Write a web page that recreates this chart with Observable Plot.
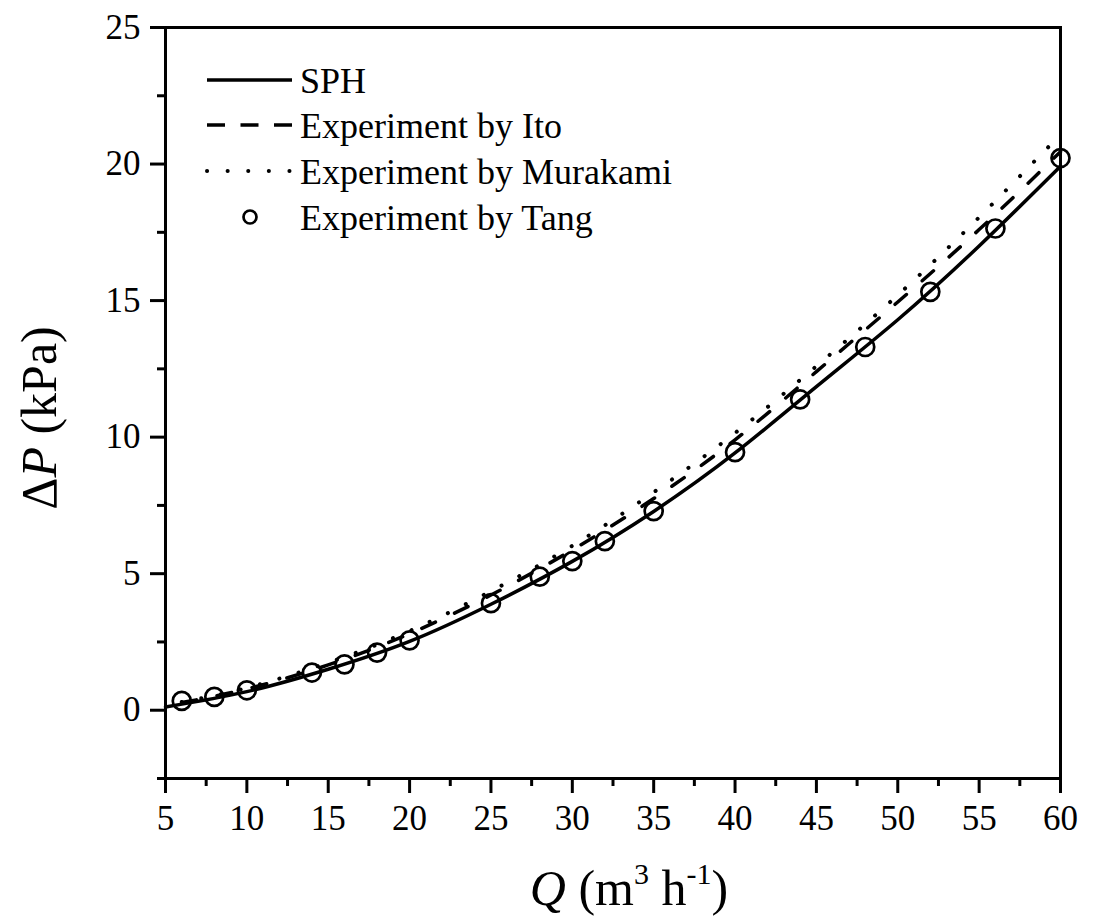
<!DOCTYPE html>
<html><head><meta charset="utf-8">
<script src="https://cdn.jsdelivr.net/npm/d3@7"></script>
<script src="https://cdn.jsdelivr.net/npm/@observablehq/plot@0.6"></script>
<style>body{margin:0;background:#fff} svg{display:block}</style>
</head><body><div id="chart"></div>
<script>
// ---- data ----
const sphQ  = [5, 10, 15, 20, 25, 30, 35, 40, 45, 50, 55, 60];
const sphP  = [0.12, 0.68, 1.5, 2.52, 3.88, 5.45, 7.28, 9.42, 11.85, 14.3, 17.0, 19.92];
const itoQ  = [6, 10, 15, 20, 25, 30, 35, 40, 45, 50, 55, 60];
const itoP  = [0.28, 0.78, 1.66, 2.8, 4.22, 5.87, 7.75, 9.9, 12.4, 14.95, 17.6, 20.45];
const muraQ = [6, 10, 15, 20, 25, 30, 35, 40, 45, 50, 55, 60];
const muraP = [0.3, 0.82, 1.74, 2.9, 4.36, 6.02, 7.98, 10.15, 12.6, 15.2, 18.05, 21.08];
const tangQ = [6, 8, 10, 14, 16, 18, 20, 25, 28, 30, 32, 35, 40, 44, 48, 52, 56, 60];
const tangP = [0.34, 0.49, 0.73, 1.38, 1.68, 2.11, 2.56, 3.92, 4.89, 5.46, 6.19, 7.29, 9.45, 11.38, 13.3, 15.32, 17.64, 20.22];

const xMajor = [5, 10, 15, 20, 25, 30, 35, 40, 45, 50, 55, 60];
const xMinor = [7.5, 12.5, 17.5, 22.5, 27.5, 32.5, 37.5, 42.5, 47.5, 52.5, 57.5];
const yMajor = [0, 5, 10, 15, 20, 25];
const yMinor = [-2.5, 2.5, 7.5, 12.5, 17.5, 22.5];
const legendLabels = ["SPH", "Experiment by Ito", "Experiment by Murakami", "Experiment by Tang"];

const toRows = (qs, ps) => qs.map((q, i) => ({Q: q, P: ps[i]}));
const sph = toRows(sphQ, sphP), ito = toRows(itoQ, itoP), mura = toRows(muraQ, muraP), tang = toRows(tangQ, tangP);

const font = '"Liberation Serif", "Times New Roman", serif';
const dashedPlot = "15,21", dottedPlot = "0.1,20";
const dashedLeg = "18,15.5", dottedLeg = "0.1,20.5";

const chart = Plot.plot({
  width: 1105, height: 924,
  marginLeft: 165, marginRight: 45, marginTop: 27, marginBottom: 146,
  style: {fontFamily: font, fontSize: "35px", color: "#000", background: "#fff", overflow: "visible"},
  x: {domain: [5, 60]},
  y: {domain: [-2.5, 25]},
  marks: [
    Plot.axisX(xMajor, {tickSize: 15, tickPadding: 12, strokeWidth: 3, label: null, fontSize: 35, fontFamily: font}),
    Plot.axisX(xMinor, {tickSize: 8, strokeWidth: 3, label: null, tickFormat: () => ""}),
    Plot.axisY(yMajor, {tickSize: 15, tickPadding: 10, strokeWidth: 3, label: null, fontSize: 35, fontFamily: font}),
    Plot.axisY(yMinor, {tickSize: 8, strokeWidth: 3, label: null, tickFormat: () => ""}),
    Plot.line(ito, {x: "Q", y: "P", curve: "natural", stroke: "#000", strokeWidth: 3.5, strokeDasharray: dashedPlot}),
    Plot.line(mura, {x: "Q", y: "P", curve: "natural", stroke: "#000", strokeWidth: 4, strokeDasharray: dottedPlot, strokeLinecap: "round"}),
    Plot.line(sph, {x: "Q", y: "P", curve: "natural", stroke: "#000", strokeWidth: 3.5}),
    Plot.dot(tang, {x: "Q", y: "P", r: 9, stroke: "#000", strokeWidth: 2.7, fill: "none"}),
    Plot.frame({stroke: "#000", strokeWidth: 3})
  ]
});
document.getElementById("chart").appendChild(chart);

const svg = d3.select(chart);
// x axis title
const xt = svg.append("text").attr("x", 629).attr("y", 905).attr("text-anchor", "middle")
  .attr("font-family", font).attr("font-size", 50).attr("fill", "#000");
xt.append("tspan").attr("font-style", "italic").text("Q");
xt.append("tspan").text(" (m");
xt.append("tspan").attr("font-size", 30).attr("dy", -21).text("3");
xt.append("tspan").attr("dy", 21).text(" h");
xt.append("tspan").attr("font-size", 30).attr("dy", -21).text("-1");
xt.append("tspan").attr("dy", 21).text(")");
// y axis title
const yt = svg.append("text").attr("transform", "translate(56,418) rotate(-90)").attr("text-anchor", "middle")
  .attr("font-family", font).attr("font-size", 50).attr("fill", "#000");
yt.append("tspan").text("Δ");
yt.append("tspan").attr("font-style", "italic").text("P");
yt.append("tspan").text(" (kPa)");

// legend
const rows = [80, 125, 171, 217];
const lg = svg.append("g").attr("font-family", font).attr("font-size", 36).attr("fill", "#000").attr("text-anchor", "start");
legendLabels.forEach((lab, i) => {
  const y = rows[i];
  if (i < 3) {
    lg.append("line").attr("x1", 207).attr("x2", 292).attr("y1", y).attr("y2", y)
      .attr("stroke", "#000").attr("stroke-width", i === 2 ? 4 : 3.5)
      .attr("stroke-dasharray", i === 1 ? dashedLeg : i === 2 ? dottedLeg : null)
      .attr("stroke-linecap", i === 2 ? "round" : "butt");
  } else {
    lg.append("circle").attr("cx", 250).attr("cy", y).attr("r", 6.5)
      .attr("fill", "none").attr("stroke", "#000").attr("stroke-width", 2.7);
  }
  lg.append("text").attr("x", 300).attr("y", y).attr("dy", "0.35em").attr("text-anchor", "start").text(lab);
});
</script>
</body></html>
